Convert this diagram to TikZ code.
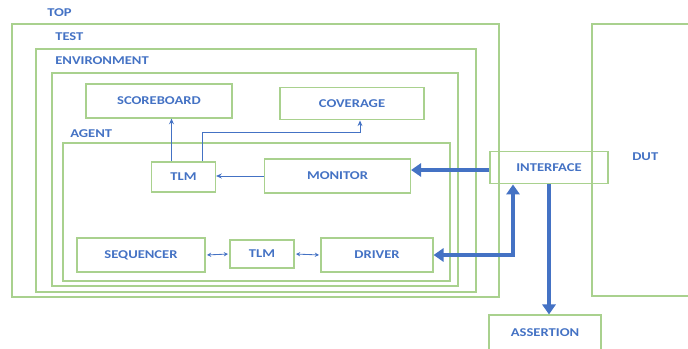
\documentclass[tikz,border=0pt]{standalone}
\usepackage{fontspec}
\setmainfont[FakeStretch=1.22]{Carlito}
\usetikzlibrary{arrows.meta,positioning,calc}
\definecolor{boxgreen}{RGB}{169,209,142}
\definecolor{uvmblue}{RGB}{68,114,196}

\begin{document}
\begin{tikzpicture}[x=0.025cm, y=-0.025cm,
    blk/.style={draw=boxgreen, line width=0.8pt, minimum height=0.85cm, align=center, font=\fontsize{8.5}{10}\selectfont\bfseries, text=uvmblue},
    frm/.style={draw=boxgreen, line width=0.8pt},
    tag/.style={anchor=west, inner sep=0pt, font=\fontsize{8.5}{10}\selectfont\bfseries, text=uvmblue},
    arr/.style={-{Stealth[length=4pt, width=3.5pt]}, uvmblue, line width=0.6pt},
    dbl/.style={{Stealth[length=3pt, width=3pt]}-{Stealth[length=3pt, width=3pt]}, uvmblue, line width=0.6pt, shorten <=1pt, shorten >=1pt},
    fat/.style={-{Triangle[length=0.25cm, width=0.33cm]}, uvmblue, line width=3pt},
    fatdbl/.style={{Triangle[length=0.25cm, width=0.33cm]}-{Triangle[length=0.25cm, width=0.33cm]}, uvmblue, line width=3pt}
]
\clip (0,0) rectangle (688,348);

% nested frames
\draw[frm] (12,24) rectangle (499,297);
\draw[frm] (36,49) rectangle (476,292);
\draw[frm] (52,73) rectangle (458,286);
\draw[frm] (63,143) rectangle (450,281);
\draw[frm] (592,24) rectangle (700,296);

\node[tag] (ltop) at (47,13) {TOP};
\node[tag] (ltest) at (55,37) {TEST};
\node[tag] (lenv) at (55,61) {ENVIRONMENT};
\node[tag] (lagent) at (70,134) {AGENT};
\node[tag] (ldut) at (632,157) {DUT};

\node[blk, minimum width=3.65cm] (score) at (159,101) {SCOREBOARD};
\node[blk, minimum width=3.6cm, minimum height=0.82cm] (cov) at (352,103.5) {COVERAGE};
\node[blk, minimum width=1.6cm, minimum height=0.75cm] (tlmA) at (183.5,177) {TLM};
\node[blk, minimum width=3.65cm] (mon) at (337.5,176) {MONITOR};
\node[blk, minimum width=3.2cm] (seq) at (141,255) {SEQUENCER};
\node[blk, minimum width=1.6cm, minimum height=0.7cm] (tlmB) at (262,254) {TLM};
\node[blk, minimum width=2.8cm] (drv) at (377,255) {DRIVER};
\node[blk, minimum width=2.95cm, minimum height=0.82cm] (iface) at (549,167.5) {INTERFACE};
\node[blk, minimum width=2.8cm, minimum height=0.9cm] (asrt) at (545,333) {ASSERTION};

\coordinate (t1) at ($(tlmA.north)+(-12,0)$);
\coordinate (t2) at ($(tlmA.north)+(19,0)$);
\coordinate (c1) at ($(cov.south)+(8,0)$);
\coordinate (i1) at ($(iface.south)+(-36,0)$);
\coordinate (i2) at ($(iface.west)+(0,2.5)$);

\draw[arr] (t1) -- (t1 |- score.south);
\draw[arr] (t2) |- ($(c1)+(0,12)$) -- (c1);
\draw[arr] (mon.west) -- (mon.west -| tlmA.east);
\draw[dbl] (seq.east) -- (tlmB.west);
\draw[dbl] (tlmB.east) -- (drv.west);

\draw[fat] (i2) -- (i2 -| mon.east);
\draw[fatdbl] (drv.east) -| (i1);
\draw[fat] (iface.south) -- (iface.south |- asrt.north);
\end{tikzpicture}
\end{document}
